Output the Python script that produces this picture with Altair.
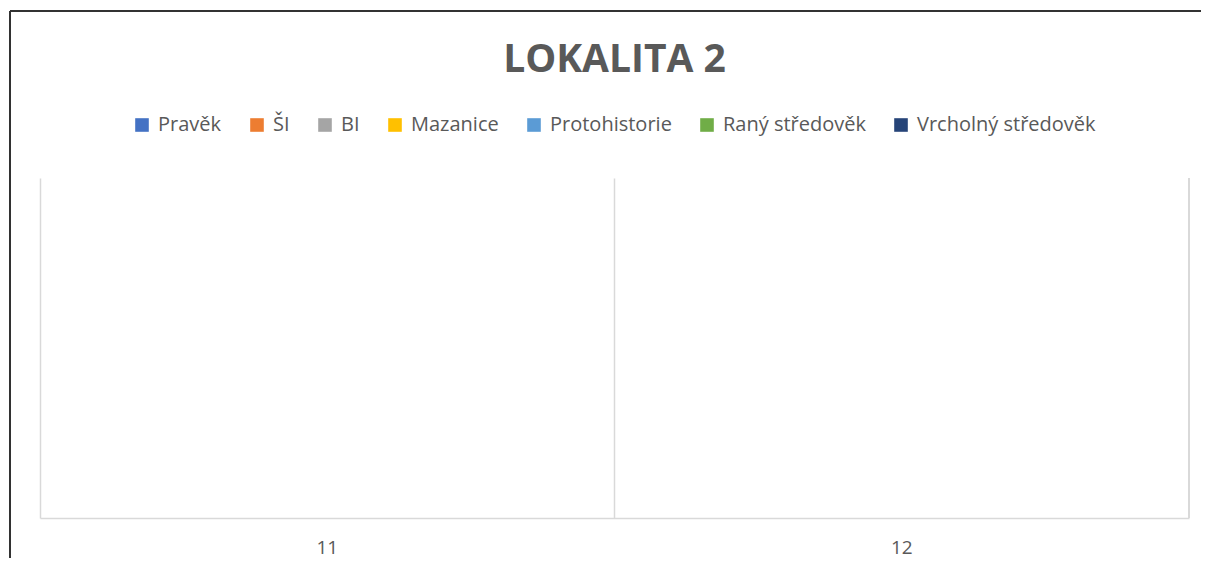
import altair as alt
import pandas as pd

categories = ["11", "12"]
series = ["Pravěk", "ŠI", "BI", "Mazanice", "Protohistorie", "Raný středověk", "Vrcholný středověk"]
colors = ["#4472C4", "#ED7D31", "#A5A5A5", "#FFC000", "#5B9BD5", "#70AD47", "#264478"]
# no visible bars in the reference: every value is zero
values = {
    "Pravěk": [0, 0],
    "ŠI": [0, 0],
    "BI": [0, 0],
    "Mazanice": [0, 0],
    "Protohistorie": [0, 0],
    "Raný středověk": [0, 0],
    "Vrcholný středověk": [0, 0],
}

rows = []
for s in series:
    for c, v in zip(categories, values[s]):
        rows.append({"kategorie": c, "serie": s, "hodnota": v})
df = pd.DataFrame(rows)

W, H = 1149, 340
FONT = "Open Sans"
GREY = "#595959"
GRID = "#D9D9D9"

bars = alt.Chart(df).mark_bar().encode(
    x=alt.X("kategorie:N", sort=categories, title=None,
            scale=alt.Scale(paddingInner=0, paddingOuter=0),
            axis=alt.Axis(labelAngle=0, ticks=False, grid=True, bandPosition=0,
                          gridColor=GRID, gridWidth=1.5, domainColor=GRID, domainWidth=1.5,
                          labelFont=FONT, labelFontSize=19, labelColor=GREY, labelPadding=20)),
    xOffset=alt.XOffset("serie:N", sort=series,
                        scale=alt.Scale(paddingOuter=1, paddingInner=0.1)),
    y=alt.Y("hodnota:Q", scale=alt.Scale(domain=[0, 1]), axis=None),
    color=alt.Color("serie:N", sort=series,
                    scale=alt.Scale(domain=series, range=colors),
                    legend=alt.Legend(title=None, orient="none", direction="horizontal",
                                      columns=7, legendX=92, legendY=-63,
                                      symbolType="square", symbolSize=185, symbolStrokeWidth=0,
                                      labelFont=FONT, labelFontSize=20, labelColor=GREY,
                                      labelLimit=400,
                                      labelOffset=6, columnPadding=25, padding=0)),
)

right_grid = alt.Chart(df).mark_rule(color=GRID, strokeWidth=1.5).encode(
    x=alt.value(W), y=alt.value(0), y2=alt.value(H)
)
frame_left = alt.Chart(df).mark_rule(color="#333333", strokeWidth=1.5).encode(
    x=alt.value(-30), y=alt.value(-167), y2=alt.value(H + 80)
)
frame_top = alt.Chart(df).mark_rule(color="#333333", strokeWidth=1.5).encode(
    x=alt.value(-30), x2=alt.value(W + 80), y=alt.value(-167)
)

chart = alt.layer(bars, right_grid, frame_left, frame_top).properties(
    width=W, height=H,
    title=alt.TitleParams("LOKALITA 2", font=FONT, fontSize=39, fontWeight="bold",
                          color=GREY, anchor="middle", offset=-70),
    autosize=alt.AutoSizeParams(type="none"),
    padding={"left": 32, "top": 170, "right": 12, "bottom": 40},
).configure_view(stroke=None)

chart.save("out.html", embed_options={"renderer": "svg", "actions": False})
